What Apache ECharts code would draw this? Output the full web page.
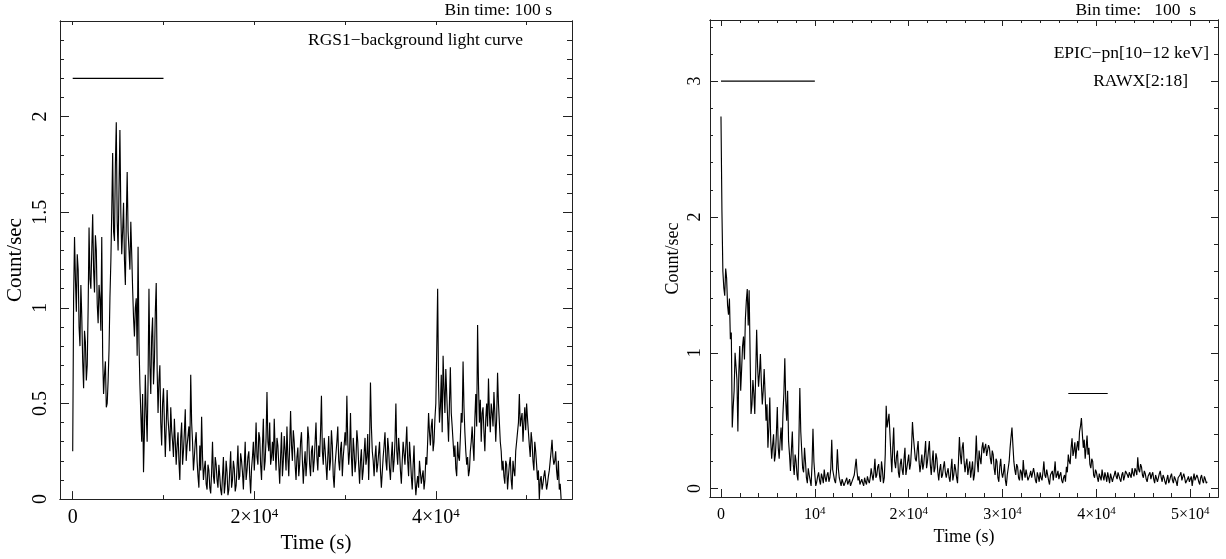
<!DOCTYPE html>
<html><head><meta charset="utf-8">
<script src="https://cdn.jsdelivr.net/npm/echarts@6/dist/echarts.min.js"></script>
<style>html,body{margin:0;padding:0;background:#fff}#c{width:1226px;height:559px}</style>
</head><body><div id="c"></div>
<script>
// ---- Left panel: RGS1 background light curve, 100 s bins ----
// rgsRate: bins starting at 0, 200, 400 ... s ; rgsRateMid: bins at 100, 300, 500 ... s
const rgsBin = 100;
const rgsRate = [
0.25,1.37,0.98,1.20,0.80,0.95,0.58,0.82,0.70,1.42,
1.10,1.49,1.08,1.30,0.92,1.05,1.37,0.55,0.72,0.50,
0.78,1.24,1.81,1.35,1.97,1.30,1.93,1.28,1.55,1.12,
1.71,1.30,1.45,1.10,0.85,1.05,1.32,0.60,0.30,0.14,
0.65,0.30,1.10,0.55,0.95,0.72,1.13,0.45,0.70,0.28,
0.58,0.22,0.57,0.35,0.48,0.30,0.42,0.18,0.35,0.10,
0.40,0.25,0.47,0.28,0.38,0.65,0.30,0.22,0.35,0.12,
0.28,0.43,0.10,0.20,0.05,0.15,0.03,0.30,0.08,0.18,
0.06,0.12,0.02,0.22,0.08,0.14,0.05,0.25,0.10,0.16,
0.07,0.28,0.12,0.20,0.05,0.30,0.15,0.25,0.03,0.22,
0.15,0.40,0.18,0.32,0.10,0.42,0.20,0.56,0.25,0.18,
0.30,0.42,0.15,0.28,0.08,0.35,0.20,0.25,0.38,0.12,
0.46,0.20,0.30,0.10,0.27,0.18,0.35,0.08,0.25,0.20,
0.32,0.12,0.28,0.20,0.40,0.15,0.22,0.54,0.18,0.26,
0.10,0.33,0.20,0.28,0.06,0.24,0.38,0.15,0.30,0.22,
0.35,0.54,0.18,0.45,0.12,0.25,0.20,0.30,0.08,0.26,
0.15,0.32,0.22,0.10,0.61,0.25,0.12,0.28,0.18,0.30,
0.06,0.22,0.35,0.15,0.26,0.10,0.30,0.20,0.50,0.18,
0.25,0.08,0.30,0.18,0.38,0.12,0.22,0.05,0.28,0.02,
0.12,0.20,0.08,0.15,0.10,0.18,0.45,0.28,0.42,0.30,
0.50,1.10,0.40,0.65,0.75,0.45,0.55,0.30,0.69,0.38,
0.22,0.16,0.30,0.20,0.45,0.72,0.35,0.18,0.12,0.25,
0.38,0.20,0.55,0.91,0.40,0.30,0.48,0.25,0.50,0.63,
0.35,0.45,0.56,0.30,0.66,0.40,0.25,0.20,0.08,0.18,
0.12,0.22,0.05,0.15,0.25,0.35,0.55,0.42,0.30,0.48,
0.50,0.35,0.22,0.30,0.15,0.25,0.10,0.00,0.12,0.08,
0.15,0.05,0.12,0.20,0.31,0.18,0.25,0.10,0.05,0.00
];
const rgsRateMid = [
1.05,1.15,1.28,0.90,1.12,0.72,0.88,0.62,1.00,1.15,
1.30,1.20,1.38,1.02,1.12,0.88,0.75,0.65,0.48,0.62,
1.05,1.50,1.40,1.75,1.45,1.62,1.50,1.40,1.25,1.45,
1.40,1.20,1.28,0.95,1.00,0.75,0.82,0.45,0.55,0.35,
0.45,0.62,0.70,0.85,0.60,0.98,0.68,0.62,0.40,0.50,
0.40,0.38,0.42,0.25,0.36,0.22,0.30,0.28,0.20,0.32,
0.18,0.35,0.20,0.33,0.25,0.40,0.15,0.30,0.20,0.06,
0.15,0.22,0.16,0.08,0.18,0.06,0.14,0.12,0.22,0.10,
0.18,0.05,0.12,0.03,0.20,0.02,0.15,0.06,0.20,0.04,
0.16,0.10,0.24,0.14,0.18,0.10,0.22,0.12,0.16,0.30,
0.25,0.22,0.35,0.18,0.28,0.15,0.32,0.30,0.40,0.22,
0.20,0.26,0.32,0.18,0.22,0.12,0.33,0.15,0.22,0.28,
0.28,0.36,0.18,0.22,0.12,0.30,0.20,0.18,0.12,0.38,
0.18,0.25,0.14,0.30,0.22,0.28,0.35,0.25,0.32,0.18,
0.22,0.15,0.36,0.12,0.18,0.30,0.20,0.26,0.12,0.28,
0.28,0.30,0.25,0.22,0.32,0.14,0.36,0.18,0.20,0.10,
0.24,0.18,0.34,0.28,0.38,0.20,0.22,0.14,0.24,0.15,
0.14,0.28,0.20,0.32,0.16,0.22,0.14,0.30,0.25,0.32,
0.15,0.20,0.24,0.28,0.20,0.30,0.12,0.18,0.10,0.08,
0.06,0.14,0.12,0.05,0.22,0.30,0.35,0.38,0.25,0.42,
0.78,0.60,0.48,0.35,0.58,0.68,0.42,0.50,0.45,0.30,
0.28,0.12,0.22,0.32,0.40,0.48,0.25,0.22,0.15,0.30,
0.28,0.42,0.38,0.60,0.52,0.45,0.35,0.42,0.38,0.45,
0.50,0.38,0.45,0.42,0.50,0.30,0.15,0.12,0.20,0.05,
0.18,0.10,0.20,0.12,0.30,0.40,0.38,0.45,0.40,0.36,
0.42,0.28,0.35,0.20,0.30,0.18,0.15,0.10,0.05,0.12,
0.10,0.08,0.15,0.25,0.22,0.20,0.15,0.20,0.08
];
const rgsGtiStart = [0];
const rgsGtiStop = [10000];
const rgsGtiLevel = 2.2;

// ---- Right panel: EPIC-pn 10-12 keV light curve, 100 s bins ----
const pnBin = 100;
const pnRate = [
2.74,1.60,1.42,1.55,1.28,1.10,0.45,0.72,0.90,0.42,
1.05,0.88,1.12,1.25,1.47,1.46,0.55,0.80,0.55,1.17,
0.75,0.99,0.62,0.88,0.50,0.30,0.67,0.22,0.40,0.25,
0.60,0.22,0.45,0.55,0.96,0.50,0.35,0.13,0.42,0.10,
0.20,0.06,0.74,0.28,0.12,0.20,0.04,0.10,0.02,0.44,
0.10,0.05,0.12,0.03,0.08,0.14,0.05,0.12,0.08,0.36,
0.10,0.04,0.29,0.08,0.02,0.06,0.03,0.08,0.04,0.02,
0.05,0.10,0.22,0.06,0.03,0.07,0.02,0.05,0.09,0.04,
0.15,0.06,0.22,0.10,0.18,0.05,0.14,0.08,0.61,0.50,
0.40,0.12,0.45,0.15,0.28,0.08,0.22,0.10,0.30,0.15,
0.25,0.18,0.49,0.30,0.20,0.35,0.12,0.25,0.18,0.35,
0.20,0.35,0.10,0.28,0.15,0.22,0.06,0.18,0.10,0.20,
0.08,0.15,0.05,0.22,0.10,0.14,0.04,0.38,0.18,0.34,
0.12,0.22,0.15,0.08,0.20,0.10,0.39,0.12,0.22,0.30,
0.26,0.33,0.28,0.30,0.18,0.25,0.10,0.20,0.05,0.22,
0.08,0.18,0.02,0.15,0.30,0.45,0.20,0.10,0.16,0.06,
0.12,0.21,0.08,0.10,0.05,0.13,0.07,0.11,0.04,0.09,
0.12,0.06,0.20,0.08,0.10,0.03,0.09,0.06,0.20,0.10,
0.07,0.12,0.04,0.10,0.16,0.25,0.18,0.37,0.28,0.22,
0.35,0.42,0.52,0.30,0.22,0.39,0.30,0.15,0.20,0.08,
0.12,0.05,0.10,0.14,0.06,0.09,0.12,0.04,0.10,0.08,
0.13,0.07,0.11,0.05,0.12,0.09,0.14,0.08,0.10,0.15,
0.09,0.13,0.23,0.12,0.16,0.08,0.11,0.05,0.10,0.07,
0.12,0.04,0.09,0.06,0.13,0.05,0.08,0.03,0.10,0.06,
0.11,0.04,0.08,0.02,0.07,0.12,0.05,0.08,0.03,0.09,
0.06,0.02,0.11,0.05,0.08,0.03,0.10,0.04,0.07,0.05
];
const pnRateMid = [
2.05,1.48,1.62,1.35,1.40,1.15,0.60,1.00,0.80,0.85,
0.72,1.05,0.95,1.38,1.20,1.00,0.62,0.70,0.85,0.90,
0.85,0.78,0.72,0.70,0.62,0.45,0.35,0.32,0.20,0.40,
0.30,0.35,0.28,0.70,0.65,0.72,0.25,0.28,0.18,0.25,
0.10,0.35,0.42,0.15,0.30,0.08,0.15,0.06,0.18,0.20,
0.02,0.09,0.06,0.11,0.04,0.08,0.10,0.05,0.15,0.14,
0.06,0.12,0.15,0.05,0.07,0.02,0.06,0.03,0.07,0.04,
0.03,0.16,0.12,0.09,0.05,0.04,0.08,0.03,0.06,0.08,
0.10,0.12,0.08,0.16,0.09,0.20,0.04,0.25,0.45,0.55,
0.25,0.30,0.20,0.24,0.12,0.18,0.14,0.22,0.10,0.20,
0.14,0.30,0.38,0.22,0.28,0.20,0.18,0.14,0.26,0.15,
0.28,0.18,0.20,0.12,0.26,0.12,0.14,0.08,0.16,0.12,
0.12,0.08,0.14,0.06,0.18,0.08,0.20,0.25,0.30,0.20,
0.18,0.10,0.20,0.14,0.06,0.22,0.20,0.28,0.18,0.34,
0.30,0.24,0.32,0.22,0.28,0.15,0.22,0.08,0.16,0.12,
0.12,0.06,0.10,0.20,0.38,0.32,0.14,0.18,0.08,0.14,
0.06,0.12,0.14,0.06,0.10,0.08,0.15,0.06,0.12,0.05,
0.08,0.12,0.10,0.14,0.06,0.10,0.13,0.12,0.08,0.13,
0.10,0.06,0.08,0.05,0.12,0.20,0.30,0.24,0.34,0.30,
0.28,0.46,0.40,0.36,0.30,0.25,0.18,0.22,0.10,0.14,
0.08,0.11,0.06,0.09,0.12,0.05,0.08,0.11,0.05,0.10,
0.09,0.12,0.07,0.10,0.06,0.13,0.10,0.12,0.08,0.11,
0.15,0.10,0.14,0.18,0.10,0.13,0.07,0.09,0.12,0.10,
0.07,0.10,0.05,0.11,0.08,0.10,0.05,0.07,0.04,0.09,
0.06,0.09,0.05,0.08,0.10,0.06,0.11,0.04,0.07,0.05,
0.09,0.07,0.06,0.10,0.05,0.08,0.06,0.09,0.04
];
const pnGtiStart = [0, 37000];
const pnGtiStop = [10000, 41200];
const pnGtiLevel = [3.0, 0.70];

// ---- Tick values ----
const leftXMajor = [0, 20000, 40000];
const leftXMinor = [10000, 30000, 50000];
const leftXTop = [0, 10000, 20000, 30000, 40000, 50000];
const leftYMajor = [0, 0.5, 1, 1.5, 2, 2.5];
const leftYMinor = [0.1,0.2,0.3,0.4,0.6,0.7,0.8,0.9,1.1,1.2,1.3,1.4,1.6,1.7,1.8,1.9,2.1,2.2,2.3,2.4];
const leftYLabels = [0, 0.5, 1, 1.5, 2];
const rightXMajor = [0, 10000, 20000, 30000, 40000, 50000];
const rightXMinor = [2000,4000,6000,8000,12000,14000,16000,18000,22000,24000,26000,28000,32000,34000,36000,38000,42000,44000,46000,48000,52000];
const rightYMajor = [0, 1, 2, 3];
const rightYMinor = [0.2,0.4,0.6,0.8,1.2,1.4,1.6,1.8,2.2,2.4,2.6,2.8,3.2,3.4];

const FONT = 'Liberation Serif';
const LC = '#222';

function ax(gridIndex, position, min, max, ticks, len, label, extra) {
  const a = {
    type: 'value', gridIndex, position, min, max,
    axisLine: {show: true, onZero: false, lineStyle: {color: LC, width: 1}},
    axisTick: {show: true, inside: true, length: len, customValues: ticks, lineStyle: {color: LC, width: 1}},
    axisLabel: {show: false},
    splitLine: {show: false},
    minorTick: {show: false}
  };
  if (label) a.axisLabel = Object.assign({show: true}, label);
  return Object.assign(a, extra || {});
}
function powFmt(v) {
  if (v === 0) return '{b|0}';
  const m = Math.round(v / 1e4);
  return m === 1 ? '{b|10}{s|4}' : '{b|' + m + '\u00d710}{s|4}';
}
function xLabel(vals, size, supSize, margin) {
  return {customValues: vals, formatter: powFmt, margin: margin,
    rich: {
      b: {fontFamily: FONT, fontSize: size, lineHeight: size + 2, color: '#000'},
      s: {fontFamily: FONT, fontSize: supSize, lineHeight: supSize, verticalAlign: 'top', color: '#000'}
    }};
}
function yLabel(vals, size, margin) {
  return {customValues: vals, rotate: 90, margin: margin, fontFamily: FONT, fontSize: size, color: '#000',
    formatter: v => String(v)};
}

const LXmin = -1400, LXmax = 55000, LYmin = 0, LYmax = 2.5;
const RXmin = -1170, RXmax = 52950, RYmin = -0.062, RYmax = 3.45;

const xAxes = [
  ax(0, 'bottom', LXmin, LXmax, leftXMajor, 8, xLabel(leftXMajor, 20, 13, 8),
     {name: 'Time (s)', nameLocation: 'middle', nameGap: 31, nameTextStyle: {fontFamily: FONT, fontSize: 21, color: '#000'}}),
  ax(0, 'bottom', LXmin, LXmax, leftXMinor, 4),
  ax(0, 'top', LXmin, LXmax, leftXTop, 4),
  ax(1, 'bottom', RXmin, RXmax, rightXMajor, 8, xLabel(rightXMajor, 16, 11, 9),
     {name: 'Time (s)', nameLocation: 'middle', nameGap: 22, nameTextStyle: {fontFamily: FONT, fontSize: 18, color: '#000'}}),
  ax(1, 'bottom', RXmin, RXmax, rightXMinor, 4),
  ax(1, 'top', RXmin, RXmax, rightXMajor, 6),
  ax(1, 'top', RXmin, RXmax, rightXMinor, 3)
];
const yAxes = [
  ax(0, 'left', LYmin, LYmax, leftYMajor, 9, yLabel(leftYLabels, 20, 9),
     {name: 'Count/sec', nameLocation: 'middle', nameGap: 34, nameTextStyle: {fontFamily: FONT, fontSize: 21, color: '#000'}}),
  ax(0, 'left', LYmin, LYmax, leftYMinor, 4),
  ax(0, 'right', LYmin, LYmax, leftYMajor, 9),
  ax(0, 'right', LYmin, LYmax, leftYMinor, 5),
  ax(1, 'left', RYmin, RYmax, rightYMajor, 8, yLabel(rightYMajor, 18, 6),
     {name: 'Count/sec', nameLocation: 'middle', nameGap: 28, nameTextStyle: {fontFamily: FONT, fontSize: 18, color: '#000'}}),
  ax(1, 'left', RYmin, RYmax, rightYMinor, 3),
  ax(1, 'right', RYmin, RYmax, rightYMajor, 7),
  ax(1, 'right', RYmin, RYmax, rightYMinor, 4)
];

// interleave the even and odd 100 s bins into one time series
function curve(even, odd, bin) {
  const out = [];
  even.forEach((v, i) => {
    out.push([2 * i * bin, v]);
    if (i < odd.length) out.push([(2 * i + 1) * bin, odd[i]]);
  });
  return out;
}
const lineStyle = {color: '#000', width: 1.15};
const series = [
  {type: 'line', xAxisIndex: 0, yAxisIndex: 0, data: curve(rgsRate, rgsRateMid, rgsBin), showSymbol: false, lineStyle, silent: true},
  {type: 'line', xAxisIndex: 3, yAxisIndex: 4, data: curve(pnRate, pnRateMid, pnBin), showSymbol: false, lineStyle, silent: true}
];
rgsGtiStart.forEach((s, i) => series.push({type: 'line', xAxisIndex: 0, yAxisIndex: 0, showSymbol: false,
  data: [[s, rgsGtiLevel], [rgsGtiStop[i], rgsGtiLevel]], lineStyle: {color: '#000', width: 1.2}, silent: true}));
pnGtiStart.forEach((s, i) => series.push({type: 'line', xAxisIndex: 3, yAxisIndex: 4, showSymbol: false,
  data: [[s, pnGtiLevel[i]], [pnGtiStop[i], pnGtiLevel[i]]], lineStyle: {color: '#000', width: 1.2}, silent: true}));

const txt = (x, y, text) => ({type: 'text', x, y, style: {text, fill: '#000', font: '17.5px "Liberation Serif"', align: 'right', verticalAlign: 'middle'}});

const chart = echarts.init(document.getElementById('c'));
chart.setOption({
  animation: false,
  backgroundColor: '#fff',
  grid: [
    {left: 60, top: 21, width: 512, height: 479},
    {left: 710, top: 20, width: 508, height: 477}
  ],
  xAxis: xAxes,
  yAxis: yAxes,
  series: series,
  graphic: [
    txt(552, 10, 'Bin time: 100 s'),
    txt(523, 40, 'RGS1\u2212background light curve'),
    txt(1196, 10, 'Bin time:   100  s'),
    txt(1209, 53, 'EPIC\u2212pn[10\u221212 keV]'),
    txt(1188, 81, 'RAWX[2:18]')
  ]
});
</script></body></html>
